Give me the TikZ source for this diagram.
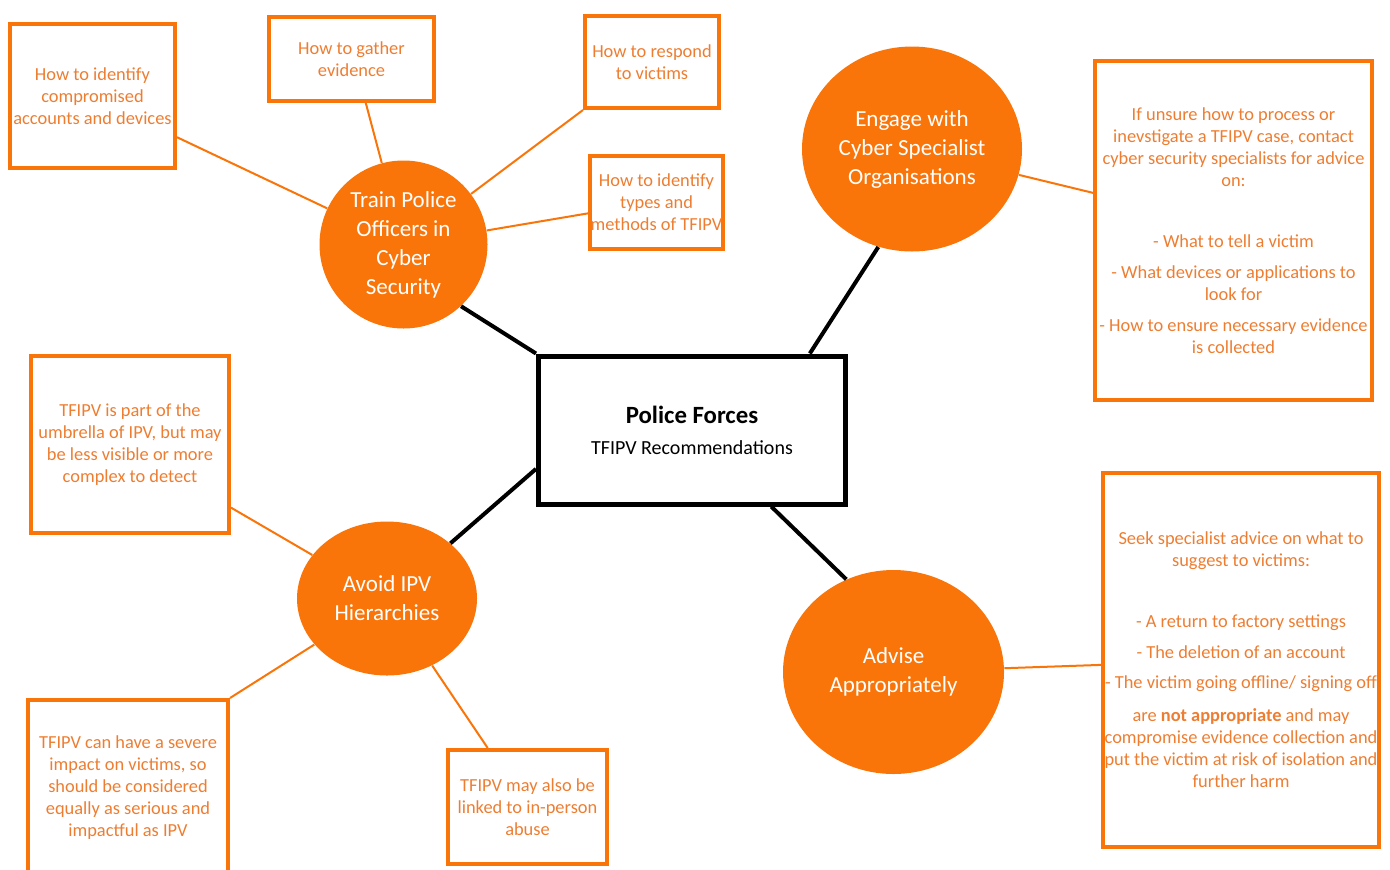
\documentclass[tikz,border=0pt]{standalone}
\usepackage{fontspec}
\setmainfont{Carlito}
\usepackage{tikz}
\definecolor{tfipvorange}{RGB}{249,117,9}
\definecolor{tfipvtext}{RGB}{237,125,49}
\usetikzlibrary{shapes.geometric}

\begin{document}
\begin{tikzpicture}[x=0.5pt, y=-0.5pt,
		kreis/.style={ellipse, fill=tfipvorange, text=white, align=center, inner sep=0pt, font=\fontsize{11.5}{14.5}\selectfont},
		kasten/.style={draw=tfipvorange, line width=2pt, text=tfipvtext, align=center, inner sep=0pt, font=\fontsize{9.2}{11}\selectfont},
		stamm/.style={black, line width=2pt},
		ast/.style={tfipvorange, line width=1pt}]
	%Bildbereich
	\useasboundingbox (0,0) rectangle (1390,869);
	% Mitte
	\node[draw, line width=2.5pt, minimum width=153.5pt, minimum height=74pt, align=center, inner sep=0pt, font=\fontsize{10}{15.5}\selectfont] (pf) at (692,430)
		{{\fontsize{12.4}{15.5}\selectfont\bfseries Police Forces}\\TFIPV Recommendations};
	% Kreise
	\node[kreis, minimum width=84pt, minimum height=84pt] (train) at (403.5,244.5) {Train Police\\Officers in\\Cyber\\Security};
	\node[kreis, minimum width=110pt, minimum height=102.5pt] (eng) at (912,149) {Engage with\\Cyber Specialist\\Organisations};
	\node[kreis, minimum width=90pt, minimum height=77pt] (avd) at (387,598.5) {Avoid IPV\\Hierarchies};
	\node[kreis, minimum width=110.5pt, minimum height=102pt] (adv) at (893.5,672) {Advise\\Appropriately};
	% Kaesten
	\node[kasten, minimum width=82.5pt, minimum height=72pt] (cmp) at (92.5,96) {How to identify\\compromised\\accounts and devices};
	\node[kasten, minimum width=82.5pt, minimum height=42pt] (gat) at (351.5,59) {How to gather\\evidence};
	\node[kasten, minimum width=67pt, minimum height=46pt] (rsp) at (652,62) {How to respond\\to victims};
	\node[kasten, minimum width=66.5pt, minimum height=46.5pt] (typ) at (656.5,202.5) {How to identify\\types and\\methods of TFIPV};
	\node[kasten, minimum width=138.5pt, minimum height=169.5pt] (cyb) at (1233.5,230.5)
		{If unsure how to process or\\inevstigate a TFIPV case, contact\\cyber security specialists for advice\\on:\\[19.5pt]
		- What to tell a victim\\[4.5pt]
		- What devices or applications to\\look for\\[4.5pt]
		- How to ensure necessary evidence\\is collected};
	\node[kasten, minimum width=99pt, minimum height=88.5pt] (prt) at (130,444.5) {TFIPV is part of the\\umbrella of IPV, but may\\be less visible or more\\complex to detect};
	\node[kasten, minimum width=100pt, minimum height=88pt] (can) at (128,788) {TFIPV can have a severe\\impact on victims, so\\should be considered\\equally as serious and\\impactful as IPV};
	\node[kasten, minimum width=79.5pt, minimum height=57pt] (may) at (527.5,807) {TFIPV may also be\\linked to in-person\\abuse};
	\node[kasten, minimum width=138pt, minimum height=187pt] (sek) at (1241,660)
		{Seek specialist advice on what to\\suggest to victims:\\[19.5pt]
		- A return to factory settings\\[4.5pt]
		- The deletion of an account\\[4pt]
		- The victim going offline/ signing off\\[5.5pt]
		are \textbf{not appropriate} and may\\compromise evidence collection and\\put the victim at risk of isolation and\\further harm};
	% Hauptaeste
	\draw[stamm] (pf.north west) -- (train.-47);
	\draw[stamm] (pf.33) -- (eng.251);
	\draw[stamm] (pf.194) -- (avd);
	\draw[stamm] (pf.316) -- (adv.117);
	% Nebenaeste
	\draw[ast] (cmp.-26) -- (train);
	\draw[ast] (gat.-72) -- (train);
	\draw[ast] (rsp.south west) -- (train);
	\draw[ast] (typ.189) -- (train);
	\draw[ast] (eng) -- (cyb.165);
	\draw[ast] (prt.-32) -- (avd);
	\draw[ast] (can.north east) -- (avd);
	\draw[ast] (may.124) -- (avd);
	\draw[ast] (adv) -- (sek.182);
\end{tikzpicture}
\end{document}
